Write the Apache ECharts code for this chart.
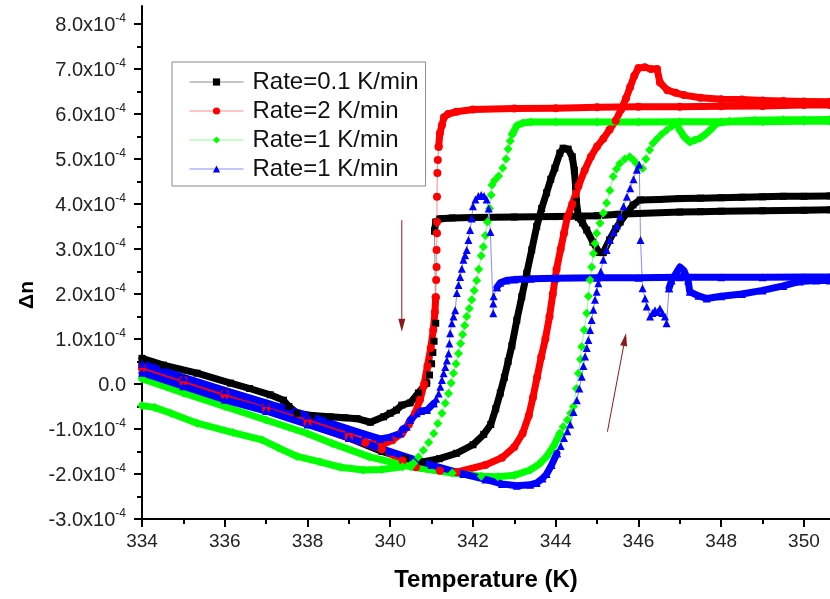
<!DOCTYPE html>
<html>
<head>
<meta charset="utf-8">
<script src="https://cdn.jsdelivr.net/npm/echarts@6/dist/echarts.min.js"></script>
<style>
  html, body { margin: 0; padding: 0; background: #fff; }
  #chart { width: 830px; height: 599px; }
</style>
</head>
<body>
<div id="chart"></div>
<script>
// Birefringence change Δn (in units of 1e-4) versus temperature (K),
// heating and cooling runs at several rates.

const xTicks = [334, 336, 338, 340, 342, 344, 346, 348, 350];
const xMinorTicks = [335, 337, 339, 341, 343, 345, 347, 349];
const yTicks = [-3, -2, -1, 0, 1, 2, 3, 4, 5, 6, 7, 8];
const yMinorTicks = [-2.5, -1.5, -0.5, 0.5, 1.5, 2.5, 3.5, 4.5, 5.5, 6.5, 7.5];
const legendLabels = ['Rate=0.1 K/min', 'Rate=2 K/min', 'Rate=1 K/min', 'Rate=1 K/min'];

// ---- Rate = 0.1 K/min ----
const blackHeat = [[334,0.42],[335,0.12],[336,-0.18],[337,-0.5],[338,-0.85],[339,-1.2],[339.8,-1.5],[340.37,-1.66],[340.78,-1.73],[341.19,-1.66],[341.6,-1.54],[342.0,-1.35],[342.26,-1.12],[342.43,-0.9],[342.55,-0.55],[342.66,-0.2],[342.76,0.15],[342.85,0.5],[342.94,0.85],[343.06,1.42],[343.18,1.94],[343.3,2.46],[343.42,2.98],[343.54,3.5],[343.66,3.9],[343.78,4.25],[343.88,4.55],[343.98,4.8],[344.1,5.13],[344.18,5.24],[344.3,5.22],[344.4,5.05],[344.45,4.75],[344.48,4.4],[344.5,4.05],[344.55,3.7],[344.65,3.58],[344.75,3.42],[344.9,3.15],[345.05,2.92],[345.15,2.92],[345.3,3.2],[345.45,3.45],[345.56,3.6],[345.72,3.8],[345.87,3.98],[346.04,4.09],[346.5,4.1],[347,4.12],[347.5,4.13],[348,4.14],[348.5,4.15],[349,4.16],[349.5,4.17],[350,4.17],[350.63,4.18]];
const blackCoolTop = [[350.63,3.87],[350,3.86],[349,3.85],[348,3.84],[347.5,3.83],[347,3.82],[346,3.79],[345.5,3.77],[345,3.74],[344,3.72],[343,3.71],[342,3.7],[341.5,3.69],[341.2,3.67],[341.1,3.6],[341.07,3.4]];
const blackCoolDrop = [[341.07,3.4],[341.1,1.35],[341.06,0.95],[341.03,0.7],[341.0,0.45],[340.95,0.2],[340.88,0.02]];
const blackCoolTail = [[340.88,0.02],[340.68,-0.2],[340.48,-0.42],[340.28,-0.47],[340.15,-0.58],[340.0,-0.65],[339.84,-0.73],[339.52,-0.85],[339.2,-0.77],[338.9,-0.75],[338.55,-0.73],[338.1,-0.7],[337.75,-0.65],[337.55,-0.5],[337.42,-0.36],[337.1,-0.24],[336.6,-0.1],[336.14,0.02],[335.33,0.24],[334.52,0.42],[334,0.57]];

// ---- Rate = 2 K/min ----
const redHeat = [[334,0.35],[335,0.05],[336,-0.25],[337,-0.55],[338,-0.88],[339,-1.2],[339.8,-1.45],[340.3,-1.7],[340.62,-1.85],[341.2,-1.93],[341.6,-1.96],[342.3,-1.8],[342.7,-1.64],[343.0,-1.4],[343.2,-1.1],[343.35,-0.7],[343.45,-0.3],[343.55,0.15],[343.65,0.6],[343.75,1.0],[343.85,1.5],[343.93,2.0],[344.02,2.55],[344.12,3.0],[344.2,3.35],[344.28,3.7],[344.4,4.0],[344.55,4.4],[344.7,4.75],[344.85,5.05],[345.0,5.28],[345.15,5.45],[345.3,5.65],[345.45,5.85],[345.58,6.1],[345.7,6.35],[345.8,6.6],[345.9,6.85],[346.0,7.02],[346.15,7.04],[346.3,7.0],[346.45,7.0],[346.52,6.7],[346.7,6.53],[346.9,6.47],[347.1,6.42],[347.5,6.36],[348,6.33],[348.5,6.32],[349,6.3],[349.5,6.29],[350,6.28],[350.63,6.27]];
const redCoolTop = [[350.63,6.2],[350,6.2],[349,6.18],[348,6.17],[347,6.16],[346,6.16],[345,6.15],[344,6.13],[343,6.12],[342,6.1],[341.6,6.05],[341.4,6.0],[341.3,5.93],[341.25,5.75],[341.2,5.57],[341.17,5.27]];
const redCoolDrop = [[341.17,5.27],[341.15,4.98],[341.14,4.69],[341.13,4.16],[341.13,3.6],[341.13,3.35],[341.12,2.98],[341.12,2.6],[341.11,2.31],[341.1,1.93]];
const redCoolTail = [[341.1,1.93],[341.08,1.6],[341.04,1.2],[340.98,0.8],[340.9,0.4],[340.82,0.0],[340.72,-0.35],[340.6,-0.65],[340.45,-0.9],[340.28,-1.1],[340.05,-1.25],[339.8,-1.35],[339.4,-1.3],[339,-1.15],[338,-0.8],[337,-0.5],[336,-0.2],[335,0.1],[334,0.38]];

// ---- Rate = 1 K/min (diamonds) ----
const greenHeatLow = [[334,0.12],[335,-0.2],[336,-0.5],[337,-0.8],[338,-1.1],[338.6,-1.32],[339.5,-1.62],[340.5,-1.84],[341.5,-1.98],[342.2,-2.05],[342.6,-2.06],[343.0,-2.03],[343.38,-1.91],[343.6,-1.78],[343.78,-1.61],[343.95,-1.38],[344.1,-1.1]];
const greenHeatRise = [[344.1,-1.1],[344.18,-0.95],[344.28,-0.8],[344.36,-0.65],[344.43,-0.5],[344.5,-0.1],[344.55,0.24],[344.6,0.55],[344.63,0.83],[344.69,1.2],[344.75,1.57],[344.79,1.95],[344.83,2.31],[344.87,2.6],[344.91,2.9],[344.95,3.12],[344.99,3.35],[345.07,3.57],[345.15,3.8],[345.23,4.02],[345.31,4.3],[345.39,4.61],[345.47,4.78],[345.55,4.9],[345.67,5.0],[345.79,5.05],[345.88,4.98],[345.95,4.9],[346.02,4.82],[346.1,4.79],[346.18,5.0],[346.27,5.2],[346.35,5.35],[346.45,5.45],[346.56,5.55],[346.68,5.64],[346.8,5.72],[346.92,5.79]];
const greenHeatTop = [[346.92,5.79],[347.0,5.64],[347.12,5.48],[347.24,5.38],[347.36,5.42],[347.49,5.46],[347.62,5.55],[347.73,5.64],[347.89,5.79],[348.2,5.84],[348.8,5.86],[349.5,5.87],[350,5.87],[350.63,5.88]];
const greenCoolTop = [[350.63,5.84],[350,5.84],[349,5.83],[348,5.83],[347,5.83],[346,5.82],[345,5.82],[344,5.82],[343.4,5.82],[343.2,5.8],[343.06,5.74],[342.95,5.55]];
const greenCoolDrop = [[342.95,5.55],[342.9,5.4],[342.85,5.22],[342.8,5.0],[342.72,4.8],[342.62,4.62],[342.52,4.52],[342.46,4.42],[342.44,4.2],[342.4,3.9],[342.35,3.6],[342.3,3.3],[342.25,3.05],[342.2,2.85],[342.14,2.55],[342.09,2.3],[342.03,2.08],[341.97,1.87],[341.91,1.68],[341.85,1.5],[341.8,1.3],[341.75,1.1],[341.7,0.9],[341.65,0.68],[341.59,0.45],[341.53,0.24],[341.47,0.02],[341.41,-0.21],[341.33,-0.43],[341.25,-0.65],[341.15,-0.88],[341.05,-1.1],[340.93,-1.3],[340.8,-1.47],[340.68,-1.62],[340.56,-1.76]];
const greenCoolTail = [[340.56,-1.76],[340.3,-1.84],[339.8,-1.9],[339.35,-1.91],[338.8,-1.85],[338.3,-1.73],[337.75,-1.61],[337.3,-1.42],[336.9,-1.24],[336.2,-1.08],[335.33,-0.87],[334.7,-0.65],[334.3,-0.52],[334,-0.48]];

// ---- Rate = 1 K/min (triangles) ----
const blueHeatLow = [[334,0.25],[335,-0.05],[336,-0.35],[337,-0.6],[338,-0.9],[339,-1.2],[340,-1.5],[341,-1.8],[341.77,-2.0],[342.3,-2.12],[342.7,-2.22],[343.06,-2.26],[343.38,-2.24],[343.54,-2.2],[343.68,-2.1],[343.78,-2.0],[343.9,-1.8],[344.03,-1.54]];
const blueHeatRise = [[344.03,-1.54],[344.12,-1.38],[344.2,-1.2],[344.28,-1.05],[344.35,-0.9],[344.43,-0.62],[344.51,-0.36],[344.57,-0.1],[344.63,0.16],[344.67,0.4],[344.71,0.61],[344.75,0.8],[344.79,0.98],[344.83,1.2],[344.87,1.42],[344.91,1.65],[344.95,1.87],[344.99,2.05],[345.03,2.24],[345.09,2.5],[345.15,2.76],[345.23,2.98],[345.31,3.2],[345.4,3.37],[345.48,3.52],[345.56,3.72],[345.64,3.95],[345.72,4.16],[345.8,4.35],[345.88,4.55],[345.96,4.76],[346.02,4.87],[346.05,3.2],[346.1,2.13],[346.16,1.9],[346.2,1.72],[346.28,1.5],[346.34,1.58],[346.4,1.64],[346.46,1.6],[346.52,1.68],[346.58,1.58],[346.64,1.5],[346.68,1.35],[346.74,2.13]];
const blueHeatTop = [[346.74,2.13],[346.8,2.3],[346.9,2.45],[347.0,2.6],[347.1,2.52],[347.2,2.3],[347.24,2.05],[347.45,1.96],[347.65,1.9],[348.0,1.95],[348.5,2.0],[349.0,2.08],[349.5,2.18],[349.9,2.28],[350.3,2.3],[350.63,2.3]];
const blueCoolTop = [[350.63,2.38],[350,2.38],[349,2.37],[348,2.37],[347,2.37],[346,2.36],[345,2.36],[344,2.35],[343.4,2.34],[343,2.32],[342.8,2.3],[342.66,2.25],[342.58,2.15]];
const blueCoolDrop = [[342.58,2.15],[342.5,1.95],[342.49,1.79],[342.49,1.57],[342.42,3.38],[342.38,3.9],[342.33,4.1],[342.27,4.18],[342.2,4.2],[342.13,4.18],[342.06,4.1],[342.0,3.95],[341.97,3.68],[341.93,3.42],[341.89,3.2],[341.85,2.98],[341.81,2.86],[341.77,2.76],[341.73,2.56],[341.69,2.38],[341.65,2.2],[341.61,2.02],[341.57,1.64],[341.53,1.5],[341.49,1.35],[341.45,1.13],[341.43,0.9],[341.41,0.68],[341.37,0.52],[341.33,0.38],[341.29,0.24],[341.25,0.09],[341.21,-0.06],[341.17,-0.21],[341.11,-0.33],[341.05,-0.43]];
const blueCoolTail = [[341.05,-0.43],[340.89,-0.58],[340.75,-0.6],[340.64,-0.65],[340.48,-0.8],[340.4,-0.95],[340.3,-1.0],[340.24,-1.1],[340.0,-1.18],[339.76,-1.22],[339.4,-1.12],[339,-1.0],[338,-0.7],[337,-0.42],[336,-0.14],[335,0.15],[334,0.45]];

// Direction arrows (cooling on the left, heating on the right), data coordinates
const arrowCooling = [[340.28, 3.64], [340.28, 1.16]];
const arrowHeating = [[345.25, -1.06], [345.70, 1.13]];

const FONT = "'Liberation Sans', Arial, Helvetica, sans-serif";

const loops = [
  { name: 'rate01', color: '#000000', thin: '#8c8c8c', symbol: 'rect', size: 7,
    sparse: [blackCoolDrop], dense: [blackHeat, blackCoolTop, blackCoolTail] },
  { name: 'rate2', color: '#ff0000', thin: '#ff8a8a', symbol: 'circle', size: 8,
    sparse: [redCoolDrop], dense: [redHeat, redCoolTop, redCoolTail] },
  { name: 'rate1a', color: '#00ff00', thin: '#8aff8a', symbol: 'diamond', size: 9,
    sparse: [greenHeatRise, greenCoolDrop], dense: [greenHeatLow, greenHeatTop, greenCoolTop, greenCoolTail] },
  { name: 'rate1b', color: '#0000ff', thin: '#8a8aff', symbol: 'triangle', size: 8,
    sparse: [blueHeatRise, blueCoolDrop], dense: [blueHeatLow, blueHeatTop, blueCoolTop, blueCoolTail] }
];

const series = [];
loops.forEach(function (l) {
  l.sparse.forEach(function (d) {
    series.push({
      type: 'line', name: l.name, data: d, symbol: l.symbol, symbolSize: l.size,
      showAllSymbol: true, itemStyle: { color: l.color },
      lineStyle: { color: l.thin, width: 1 }, emphasis: { disabled: true }
    });
  });
  l.dense.forEach(function (d) {
    series.push({
      type: 'line', name: l.name, data: d, symbol: l.symbol, symbolSize: l.size,
      showAllSymbol: true, itemStyle: { color: l.color },
      lineStyle: { color: l.color, width: 7, join: 'round', cap: 'round' },
      emphasis: { disabled: true }
    });
  });
});

const axisBase = {
  type: 'value',
  axisLine: { show: true, onZero: false, lineStyle: { color: '#000', width: 2 } },
  splitLine: { show: false }
};

const chart = echarts.init(document.getElementById('chart'), null, { renderer: 'canvas' });

chart.setOption({
  animation: false,
  backgroundColor: '#ffffff',
  textStyle: { fontFamily: FONT },
  grid: { left: 142, right: 0, top: 6, bottom: 80, containLabel: false },
  legend: {
    orient: 'vertical', left: 172, top: 62,
    backgroundColor: '#ffffff', borderColor: '#8a8a8a', borderWidth: 1, borderRadius: 0,
    padding: [8, 7, 5, 17], itemWidth: 54, itemHeight: 9, itemGap: 5,
    selectedMode: false,
    textStyle: { fontSize: 24, color: '#111', fontFamily: FONT, lineHeight: 24, padding: [0, 0, 0, 4] },
    data: loops.map(function (l) {
      return { name: l.name, itemStyle: { color: l.color }, lineStyle: { color: l.thin, width: 1 } };
    }),
    formatter: function (name) {
      return legendLabels[loops.findIndex(function (l) { return l.name === name; })];
    }
  },
  xAxis: [
    Object.assign({}, axisBase, {
      min: 334, max: 350.63, position: 'bottom',
      name: 'Temperature (K)', nameLocation: 'middle', nameGap: 49,
      nameTextStyle: { fontSize: 24, fontWeight: 'bold', color: '#000', fontFamily: FONT },
      axisTick: { show: true, customValues: xTicks, length: 8, lineStyle: { color: '#000', width: 2 } },
      axisLabel: { customValues: xTicks, fontSize: 19, color: '#222', margin: 13, fontFamily: FONT }
    }),
    Object.assign({}, axisBase, {
      min: 334, max: 350.63, position: 'bottom',
      axisLine: { show: false, onZero: false },
      axisTick: { show: true, customValues: xMinorTicks, length: 5, lineStyle: { color: '#000', width: 2 } },
      axisLabel: { show: false }
    })
  ],
  yAxis: [
    Object.assign({}, axisBase, {
      min: -3, max: 8.4, position: 'left',
      name: 'Δn', nameLocation: 'middle', nameRotate: 90, nameGap: 100,
      nameTextStyle: { fontSize: 21, fontWeight: 'bold', color: '#000', fontFamily: FONT, padding: [0, 65, 0, 0] },
      axisTick: { show: true, customValues: yTicks, length: 8, lineStyle: { color: '#000', width: 2 } },
      axisLabel: {
        customValues: yTicks, margin: 16, fontFamily: FONT,
        formatter: function (v) {
          if (Math.abs(v) < 1e-9) return '{m|0.0}';
          return '{m|' + v.toFixed(1) + 'x10}{s|-4}';
        },
        rich: {
          m: { fontSize: 20, color: '#222', fontFamily: FONT, lineHeight: 23, verticalAlign: 'bottom' },
          s: { fontSize: 12, color: '#222', fontFamily: FONT, lineHeight: 12, verticalAlign: 'top' }
        }
      }
    }),
    Object.assign({}, axisBase, {
      min: -3, max: 8.4, position: 'left',
      axisLine: { show: false, onZero: false },
      axisTick: { show: true, customValues: yMinorTicks, length: 5, lineStyle: { color: '#000', width: 2 } },
      axisLabel: { show: false }
    })
  ],
  series: series
});

// Arrow annotations, placed through the grid's coordinate system
function arrowGraphics(pair) {
  const p0 = chart.convertToPixel({ gridIndex: 0 }, pair[0]);
  const p1 = chart.convertToPixel({ gridIndex: 0 }, pair[1]);
  const dx = p1[0] - p0[0], dy = p1[1] - p0[1];
  const len = Math.sqrt(dx * dx + dy * dy);
  const ux = dx / len, uy = dy / len;
  const headLen = 13, halfW = 3.5;
  const bx = p1[0] - ux * headLen, by = p1[1] - uy * headLen;
  const nx = -uy, ny = ux;
  const col = '#8b1a1a';
  return [
    { type: 'line', shape: { x1: p0[0], y1: p0[1], x2: bx, y2: by }, style: { stroke: col, lineWidth: 1 }, z: 100 },
    { type: 'polygon', shape: { points: [[p1[0], p1[1]], [bx + nx * halfW, by + ny * halfW], [bx - nx * halfW, by - ny * halfW]] }, style: { fill: col }, z: 100 }
  ];
}

chart.setOption({
  graphic: arrowGraphics(arrowCooling).concat(arrowGraphics(arrowHeating))
});
</script>
</body>
</html>
